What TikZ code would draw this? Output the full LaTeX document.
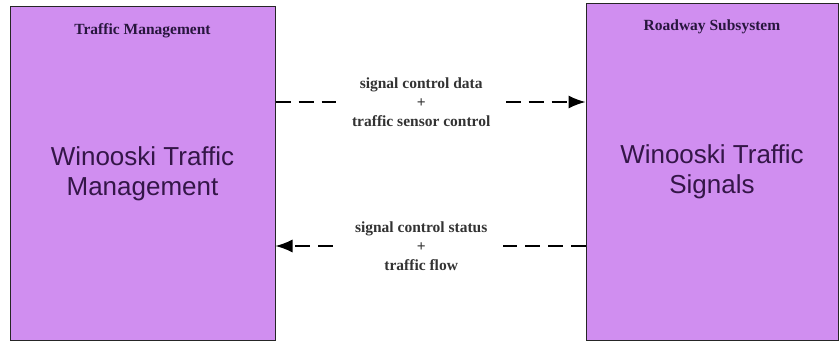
\documentclass[tikz,border=0pt]{standalone}
\usepackage{fontspec}
\setmainfont{Liberation Serif}
\newfontfamily\arialfont{Liberation Sans}
\usepackage{tikz}
\usetikzlibrary{arrows.meta,positioning}
\usepackage{xcolor}

\definecolor{boxfill}{RGB}{208,142,240}
\definecolor{boxtext}{RGB}{52,22,72}
\definecolor{titletext}{RGB}{40,22,62}

\tikzset{
	subsys/.style={rectangle,draw=black!85,line width=1pt,fill=boxfill,align=center,
		font=\arialfont\fontsize{26}{30}\selectfont,text=boxtext,inner sep=0pt},
	systitle/.style={font=\bfseries\fontsize{15.5}{18}\selectfont,text=titletext},
	flow/.style={line width=1.5pt,dash pattern=on 15pt off 8pt,-{Latex[length=17pt,width=13pt]}},
	flowlabel/.style={fill=white,align=center,inner xsep=16pt,inner ysep=2pt,
		font=\bfseries\fontsize{15.5}{19}\selectfont,text=black!80}
}

\begin{document}
\begin{tikzpicture}[x=1pt,y=1pt]
\useasboundingbox (0,0) rectangle (839,-342);
\begin{scope}
	\node[subsys,minimum width=265pt,minimum height=333pt] (tm) at (142.5,-173.5)
	{Winooski Traffic\\Management};
	\node[subsys,minimum width=252pt,minimum height=336pt] (rs) at (712,-172)
	{Winooski Traffic\\Signals};

	\node[systitle] (tmtitle) at ([yshift=-24pt]tm.north) {Traffic Management};
	\node[systitle] (rstitle) at ([yshift=-23pt]rs.north) {Roadway Subsystem};
\end{scope}

\begin{scope}
	\draw[flow] ([yshift=71.5pt]tm.east) -- ([yshift=71.5pt]tm.east -| rs.west)
	node[flowlabel,pos=0.47] (datalabel) {signal control data\\+\\traffic sensor control};
	\draw[flow] ([yshift=-72.5pt]tm.east -| rs.west) -- ([yshift=-72.5pt]tm.east)
	node[flowlabel,pos=0.53] (statuslabel) {signal control status\\+\\traffic flow};
\end{scope}
\end{tikzpicture}
\end{document}
